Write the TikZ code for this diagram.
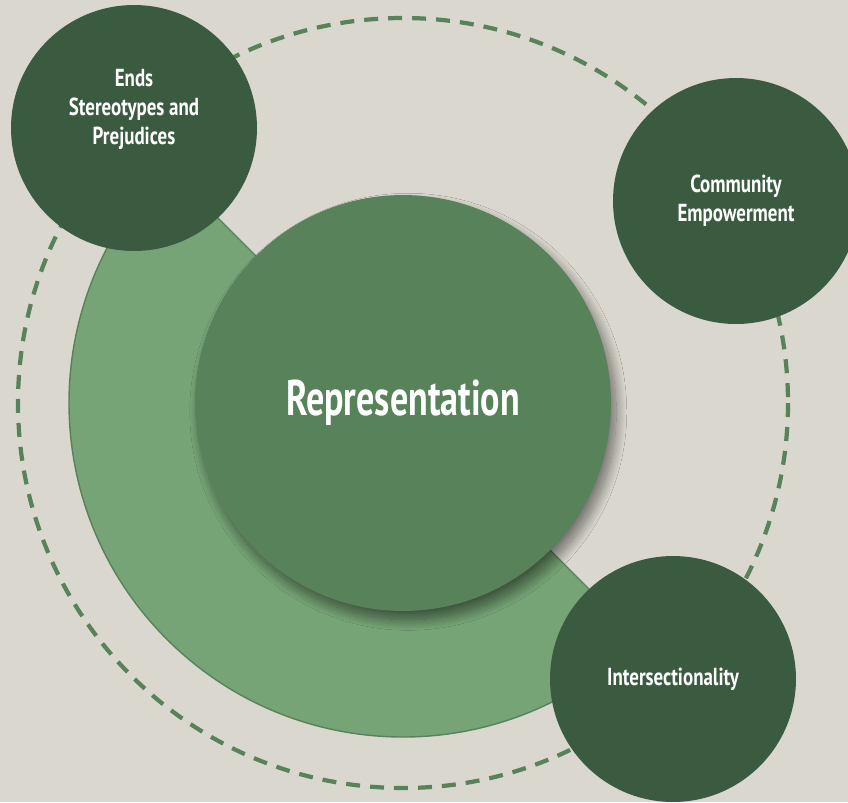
\documentclass[tikz,border=0pt]{standalone}
\usepackage{fontspec}
\setmainfont{PT Sans}
\newfontfamily\titlefont{PT Sans}[FakeStretch=0.72]
\newfontfamily\labelfont{PT Sans}[FakeStretch=0.77]
\usetikzlibrary{positioning, shadows.blur}
\definecolor{bgbeige}{RGB}{218, 216, 206}
\definecolor{darkgreen}{RGB}{58, 91, 64}
\definecolor{midgreen}{RGB}{88, 130, 89}
\definecolor{lightgreen}{RGB}{118, 164, 118}

\begin{document}
\begin{tikzpicture}[
    x=0.02cm, y=-0.02cm,
    hub/.style={circle, fill=midgreen, minimum size=8.32cm, inner sep=0pt, text=white,
                font=\titlefont\bfseries\fontsize{28.5}{32}\selectfont,
                blur shadow={shadow xshift=3pt, shadow yshift=-5pt, shadow blur radius=6pt,
                             shadow blur steps=20, shadow opacity=50}},
    spoke/.style={circle, fill=darkgreen, minimum size=4.92cm, inner sep=0pt, align=center,
                  text=white, font=\labelfont\bfseries\fontsize{14}{16.5}\selectfont},
    orbit/.style={draw=midgreen, line width=2.4pt, dash pattern=on 0.28cm off 0.2cm},
    halfdisk/.style={fill=lightgreen, draw=midgreen, line width=0.8pt}
]
\fill[bgbeige] (0,0) rectangle (848,802);
\useasboundingbox (0,0) rectangle (848,802);
\coordinate (centre) at (403,403);
\draw[orbit] (centre) circle[radius=385];
\draw[halfdisk] (centre) ++(45:334) arc[start angle=45, end angle=225, radius=334] -- cycle;
\node[hub] (repr) at (centre) {Representation};
\node[spoke, text depth=0.86cm] (ends) at (134,128) {Ends\\Stereotypes and\\Prejudices};
\node[spoke] (community) at (736,201) {Community\\Empowerment};
\node[spoke] (intersect) at (673,679) {Intersectionality};
\end{tikzpicture}
\end{document}
